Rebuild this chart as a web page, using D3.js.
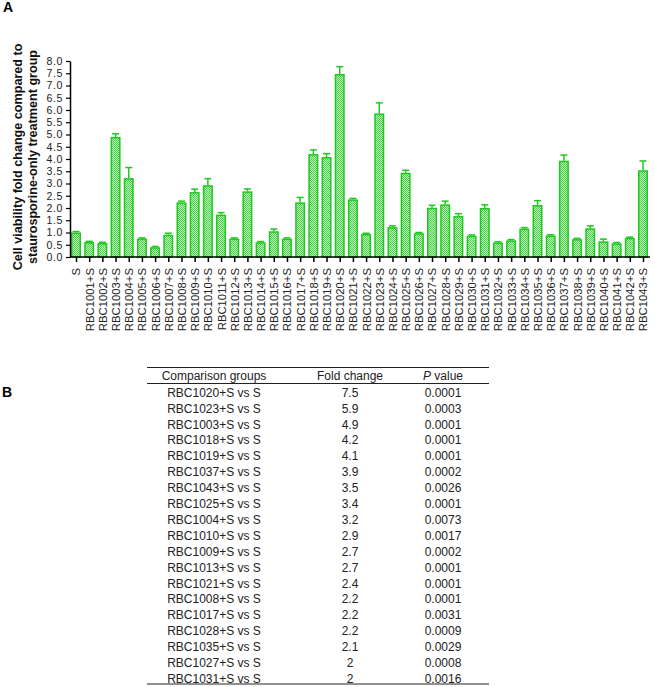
<!DOCTYPE html>
<html><head><meta charset="utf-8">
<script src="https://cdn.jsdelivr.net/npm/d3@7"></script>
<style>body{margin:0;background:#fff}svg{display:block;font-family:Arial,"Liberation Sans",Helvetica,sans-serif}</style>
</head><body><svg id="c" width="655" height="687"></svg>
<script>
const categories = ["S","RBC1001+S","RBC1002+S","RBC1003+S","RBC1004+S","RBC1005+S","RBC1006+S","RBC1007+S","RBC1008+S","RBC1009+S","RBC1010+S","RBC1011+S","RBC1012+S","RBC1013+S","RBC1014+S","RBC1015+S","RBC1016+S","RBC1017+S","RBC1018+S","RBC1019+S","RBC1020+S","RBC1021+S","RBC1022+S","RBC1023+S","RBC1024+S","RBC1025+S","RBC1026+S","RBC1027+S","RBC1028+S","RBC1029+S","RBC1030+S","RBC1031+S","RBC1032+S","RBC1033+S","RBC1034+S","RBC1035+S","RBC1036+S","RBC1037+S","RBC1038+S","RBC1039+S","RBC1040+S","RBC1041+S","RBC1042+S","RBC1043+S"];
const means = [1.0,0.61,0.57,4.9,3.22,0.75,0.4,0.91,2.23,2.65,2.93,1.73,0.75,2.68,0.6,1.05,0.75,2.23,4.2,4.08,7.47,2.35,0.94,5.86,1.22,3.44,0.97,2.01,2.15,1.67,0.87,2.0,0.59,0.68,1.16,2.12,0.88,3.93,0.73,1.17,0.64,0.56,0.78,3.54];
const errors = [0.04,0.03,0.03,0.13,0.43,0.03,0.03,0.06,0.05,0.12,0.27,0.08,0.03,0.1,0.03,0.09,0.03,0.2,0.17,0.14,0.3,0.04,0.03,0.43,0.05,0.1,0.03,0.1,0.13,0.1,0.03,0.13,0.03,0.03,0.04,0.18,0.03,0.23,0.03,0.1,0.09,0.03,0.03,0.38];
const yTicks = [0,0.5,1,1.5,2,2.5,3,3.5,4,4.5,5,5.5,6,6.5,7,7.5,8];
const yTitle = ["Cell viability fold change compared to","staurosporine-only treatment group"];
const tableHeader = ["Comparison groups","Fold change","P value"];
const tableGroups = ["RBC1020+S vs S","RBC1023+S vs S","RBC1003+S vs S","RBC1018+S vs S","RBC1019+S vs S","RBC1037+S vs S","RBC1043+S vs S","RBC1025+S vs S","RBC1004+S vs S","RBC1010+S vs S","RBC1009+S vs S","RBC1013+S vs S","RBC1021+S vs S","RBC1008+S vs S","RBC1017+S vs S","RBC1028+S vs S","RBC1035+S vs S","RBC1027+S vs S","RBC1031+S vs S"];
const tableFold = ["7.5","5.9","4.9","4.2","4.1","3.9","3.5","3.4","3.2","2.9","2.7","2.7","2.4","2.2","2.2","2.2","2.1","2","2"];
const tableP = ["0.0001","0.0003","0.0001","0.0001","0.0001","0.0002","0.0026","0.0001","0.0073","0.0017","0.0002","0.0001","0.0001","0.0001","0.0031","0.0009","0.0029","0.0008","0.0016"];

const svg = d3.select("#c");
const defs = svg.append("defs");
const pat = defs.append("pattern").attr("id","chk").attr("patternUnits","userSpaceOnUse").attr("width",2).attr("height",2);
pat.append("rect").attr("width",2).attr("height",2).attr("fill","#c9f3c9");
pat.append("rect").attr("width",1).attr("height",1).attr("fill","#3fcf3f");
pat.append("rect").attr("x",1).attr("y",1).attr("width",1).attr("height",1).attr("fill","#3fcf3f");

const x0 = 70, y0 = 257, yTop = 61;
const y = d3.scaleLinear().domain([0,8]).range([y0,yTop]);
const x = d3.scalePoint().domain(categories).range([76,643]);
const bw = 10;
const green = "#1ec81e";

// bars
const g = svg.append("g");
g.selectAll("line.err").data(categories).join("line")
  .attr("x1",d=>x(d)).attr("x2",d=>x(d))
  .attr("y1",(d,i)=>y(means[i])).attr("y2",(d,i)=>y(means[i]+errors[i]))
  .attr("stroke",green).attr("stroke-width",1.5);
g.selectAll("line.cap").data(categories).join("line")
  .attr("x1",d=>x(d)-3.5).attr("x2",d=>x(d)+3.5)
  .attr("y1",(d,i)=>y(means[i]+errors[i])).attr("y2",(d,i)=>y(means[i]+errors[i]))
  .attr("stroke",green).attr("stroke-width",1.5);
g.selectAll("rect.bar").data(categories).join("rect")
  .attr("x",d=>x(d)-bw/2+0.75).attr("width",bw-1.5)
  .attr("y",(d,i)=>y(means[i])+0.75).attr("height",(d,i)=>y0-y(means[i])-0.75)
  .attr("fill","url(#chk)").attr("stroke",green).attr("stroke-width",1.5);

// y axis
const ya = svg.append("g").attr("transform",`translate(${x0},0)`)
  .call(d3.axisLeft(y).tickValues(yTicks).tickFormat(d3.format(".1f")).tickSize(4).tickSizeOuter(0));
ya.select(".domain").attr("stroke","#000").attr("stroke-width",1.5);
ya.selectAll(".tick line").attr("stroke","#000").attr("stroke-width",1.2);
ya.selectAll("text").attr("font-size","10.6px").attr("letter-spacing","0.6px").attr("fill","#222").attr("x",-7);

// x axis
const xa = svg.append("g").attr("transform",`translate(0,${y0})`)
  .call(d3.axisBottom(x).tickSize(5).tickSizeOuter(0));
xa.select(".domain").attr("d",`M${x0},0H650`).attr("stroke","#000").attr("stroke-width",1.5);
xa.selectAll(".tick line").attr("stroke","#000").attr("stroke-width",1.5);
xa.selectAll("text").attr("font-size","11.3px").attr("fill","#222")
  .attr("transform","rotate(-90)").attr("text-anchor","end")
  .attr("x",-11).attr("y",0).attr("dy","0.35em");

// y title
yTitle.forEach((t,i)=>{
  svg.append("text").attr("transform",`translate(${22+i*15},157) rotate(-90)`)
    .attr("text-anchor","middle").attr("font-size","12.6px").attr("font-weight","bold").attr("fill","#111").text(t);
});

// panel letters
svg.append("text").attr("x",3).attr("y",12).attr("font-size","14px").attr("font-weight","bold").text("A");
svg.append("text").attr("x",2).attr("y",397).attr("font-size","14px").attr("font-weight","bold").text("B");

// table
const colX = [214,350,443];
const tL = 147, tR = 489;
const rowY0 = 392.5, rowH = 15.9;
svg.append("line").attr("x1",tL).attr("x2",tR).attr("y1",367.5).attr("y2",367.5).attr("stroke","#222").attr("stroke-width",1.2);
svg.append("line").attr("x1",tL).attr("x2",tR).attr("y1",383.5).attr("y2",383.5).attr("stroke","#222").attr("stroke-width",1.2);
svg.append("line").attr("x1",tL).attr("x2",tR).attr("y1",684).attr("y2",684).attr("stroke","#222").attr("stroke-width",1.2);
const fs = "12px";
svg.append("text").attr("x",colX[0]).attr("y",376).attr("dy","0.35em").attr("text-anchor","middle").attr("font-size",fs).attr("fill","#222").text(tableHeader[0]);
svg.append("text").attr("x",colX[1]).attr("y",376).attr("dy","0.35em").attr("text-anchor","middle").attr("font-size",fs).attr("fill","#222").text(tableHeader[1]);
const ph = svg.append("text").attr("x",colX[2]).attr("y",376).attr("dy","0.35em").attr("text-anchor","middle").attr("font-size",fs).attr("fill","#222");
ph.append("tspan").attr("font-style","italic").text(tableHeader[2].split(" ")[0]);
ph.append("tspan").text(" " + tableHeader[2].split(" ").slice(1).join(" "));
const rows = svg.append("g");
rows.selectAll("text.g").data(tableGroups).join("text").attr("x",colX[0]).attr("y",(d,i)=>rowY0+i*rowH).attr("dy","0.35em")
  .attr("text-anchor","middle").attr("font-size",fs).attr("fill","#222").text(d=>d);
rows.selectAll("text.f").data(tableFold).join("text").attr("x",colX[1]).attr("y",(d,i)=>rowY0+i*rowH).attr("dy","0.35em")
  .attr("text-anchor","middle").attr("font-size",fs).attr("fill","#222").text(d=>d);
rows.selectAll("text.p").data(tableP).join("text").attr("x",colX[2]).attr("y",(d,i)=>rowY0+i*rowH).attr("dy","0.35em")
  .attr("text-anchor","middle").attr("font-size",fs).attr("fill","#222").text(d=>d);
</script></body></html>
